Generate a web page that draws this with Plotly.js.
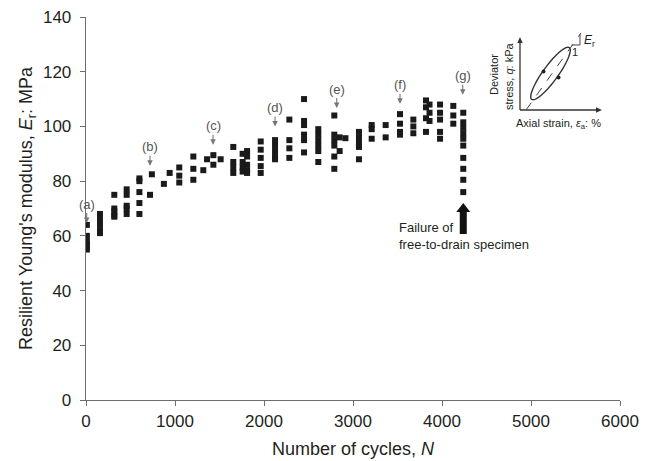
<!DOCTYPE html>
<html><head><meta charset="utf-8">
<script src="https://cdn.plot.ly/plotly-3.0.1.min.js"></script>
<style>html,body{margin:0;padding:0;background:#fff}#chart{width:648px;height:461px}</style>
</head><body><div id="chart"></div>
<script>
// Number of cycles N and resilient Young's modulus Er (MPa)
const cycles = [
  10,10,10,10,10,10,
  157,157,157,157,157,
  318,318,318,318,318,
  457,457,457,457,457,
  600,600,600,600,600,
  719,740,875,940,
  1048,1048,1048,
  1206,1206,1206,
  1318,1360,1431,1431,1513,
  1655,1655,1655,1655,
  1760,1760,1760,1760,
  1810,1810,1810,1810,1810,
  1963,1963,1963,1963,1963,
  2124,2124,2124,2124,2124,
  2285,2285,2285,2285,
  2450,2450,2450,2450,2450,2450,
  2610,2610,2610,2610,2610,2610,
  2790,2790,2790,2790,2790,2790,
  2850,2850,2915,
  3067,3067,3067,3067,3067,
  3210,3210,3210,
  3367,3367,
  3528,3528,3528,3528,
  3678,3678,3678,
  3820,3820,3820,3820,
  3860,3860,3860,
  3978,3978,3978,3978,3978,
  4127,4127,4127,
  4239,4239,4239,4239,4239,4239,4239,4239,4239,4239
];
const modulus = [
  64,60,58,57,56,55,
  68,66,64,62,61,
  75,70,69,67.5,67,
  77,75,71,70,68,
  81,80,76,72,68,
  75,82.5,79,83,
  85,82,79.5,
  89,84.5,80.5,
  84,88,89.5,86,88,
  92.5,87,85,83,
  90,87,85,83.5,
  91,89,86,84,83,
  94.5,91.5,88.5,85.5,83,
  95,93,91,89,88,
  102.5,95,92,88.5,
  110,102,100.5,97,95,90.5,
  99,97,95,93,91,87,
  104,97,95,93,89,84.5,
  96,91,95.7,
  98,96,94,92.5,88,
  100.5,99,95.5,
  100.5,96,
  104.5,101,98,97,
  102.5,100,97.5,
  109.5,107,103,98,
  108,105,102,
  108,105,102.5,98,95.5,
  107.5,104,101,
  105,101.5,99.5,97.5,95.5,93,88.5,84.5,80.5,76
];
const xTicks = [0,1000,2000,3000,4000,5000,6000];
const yTicks = [0,20,40,60,80,100,120,140];
const stageLabels = ['(a)','(b)','(c)','(d)','(e)','(f)','(g)'];
const stageCycles = [8,719,1427,2124,2817,3528,4233];
const stageTips = [64.7,85.6,93.3,100,106.7,108.3,111.6];
const failureCycles = 4239;
const failureTip = 72;

const FONT = 'Liberation Sans, Arial, sans-serif';
const TXT = '#231f20';
const AX = '#6d6e71';

// plot-area geometry, used for the pixel-scaled overlay axes (x2/y2) that hold the drawings
const M = {l:86, r:28, t:17, b:61}, W = 648, H = 461;
const pxX = n => M.l + n/6000*(W-M.l-M.r);
const pxY = e => (H-M.b) - e/140*(H-M.t-M.b);

function ellipsePath(cx, cy, a, b, angDeg){
  const th = angDeg*Math.PI/180; let p='';
  for(let i=0;i<=72;i++){
    const t=2*Math.PI*i/72, ux=a*Math.cos(t), uy=b*Math.sin(t);
    const x=cx+ux*Math.cos(th)-uy*Math.sin(th);
    const y=cy-(ux*Math.sin(th)+uy*Math.cos(th));
    p += (i===0?'M':'L')+x.toFixed(2)+','+y.toFixed(2);
  }
  return p+'Z';
}

// big "failure" arrow, positioned from the failure column in data space
const fx = pxX(failureCycles), fy = pxY(failureTip);
const bigArrow = `M${fx-3.5},${fy+31}L${fx-3.5},${fy+9}L${fx-7},${fy+9}L${fx},${fy}L${fx+7},${fy+9}L${fx+3.5},${fy+9}L${fx+3.5},${fy+31}Z`;

const traces = [
  {x:cycles, y:modulus, type:'scatter', mode:'markers',
   marker:{symbol:'square', size:6, color:'#1a1a1a'}, hoverinfo:'x+y', showlegend:false},
  {x:[M.l, W-M.r], y:[H-M.b, M.t], xaxis:'x2', yaxis:'y2', type:'scatter', mode:'markers',
   marker:{opacity:0}, hoverinfo:'skip', showlegend:false}
];

const S = {xref:'x2', yref:'y2'};
const shapes = [
  Object.assign({type:'path', path:bigArrow, fillcolor:'#111', line:{width:0}}, S),
  // inset: axes with arrow heads
  Object.assign({type:'line', x0:520, y0:110, x1:520, y1:41, line:{color:'#333',width:1.3}}, S),
  Object.assign({type:'path', path:'M517.3,43L520,37L522.7,43Z', fillcolor:'#333', line:{width:0}}, S),
  Object.assign({type:'line', x0:520, y0:110, x1:598, y1:110, line:{color:'#333',width:1.3}}, S),
  Object.assign({type:'path', path:'M596,107.3L602,110L596,112.7Z', fillcolor:'#333', line:{width:0}}, S),
  // inset: hysteresis loop, secant line and slope triangle
  Object.assign({type:'path', path:ellipsePath(550.5,73.5,32,7.5,54), line:{color:'#333',width:1.4}}, S),
  Object.assign({type:'line', x0:526, y0:110, x1:581, y1:33, line:{color:'#444',width:1,dash:'dash'}}, S),
  Object.assign({type:'path', path:'M571.5,45L580,45L580,34', line:{color:'#444',width:1}}, S),
  Object.assign({type:'circle', x0:541.5, y0:69.5, x1:545.5, y1:73.5, fillcolor:'#222', line:{width:0}}, S),
  Object.assign({type:'circle', x0:556.5, y0:75.5, x1:560.5, y1:79.5, fillcolor:'#222', line:{width:0}}, S)
];

const annotations = [];
stageLabels.forEach((t,i)=>{
  annotations.push({x:stageCycles[i], y:stageTips[i], xref:'x', yref:'y', text:t,
    showarrow:true, ax:0, ay:-19, arrowhead:2, arrowsize:1, arrowwidth:1.1, arrowcolor:'#777',
    font:{family:FONT,size:13,color:'#555'}});
});
annotations.push({x:3494, y:60, xref:'x', yref:'y', text:'Failure of<br>free-to-drain specimen',
  showarrow:false, xanchor:'left', yanchor:'middle', align:'left',
  font:{family:FONT,size:13,color:TXT}});
annotations.push({x:494, y:75, xref:'x2', yref:'y2', text:'Deviator', textangle:-90, showarrow:false,
  font:{family:FONT,size:11,color:TXT}});
annotations.push({x:509, y:76, xref:'x2', yref:'y2', text:'stress, <i>q</i>: kPa', textangle:-90, showarrow:false,
  font:{family:FONT,size:11,color:TXT}});
annotations.push({x:558, y:124, xref:'x2', yref:'y2', text:'Axial strain, <i>ε</i><sub>a</sub>: %', showarrow:false,
  font:{family:FONT,size:11,color:TXT}});
annotations.push({x:575, y:52, xref:'x2', yref:'y2', text:'1', showarrow:false,
  font:{family:FONT,size:11,color:TXT}});
annotations.push({x:582, y:41, xref:'x2', yref:'y2', text:'<i>E</i><sub>r</sub>', showarrow:false, xanchor:'left',
  font:{family:FONT,size:12,color:TXT}});

const layout = {
  width:W, height:H,
  margin:M,
  paper_bgcolor:'#fff', plot_bgcolor:'#fff',
  font:{family:FONT, color:TXT},
  showlegend:false,
  xaxis:{range:[0,6000], tickvals:xTicks, ticks:'outside', ticklen:5, tickwidth:1, tickcolor:AX,
    showline:true, linecolor:AX, linewidth:1.3, showgrid:false, zeroline:false,
    tickfont:{family:FONT,size:17,color:TXT},
    title:{text:'Number of cycles, <i>N</i>', font:{family:FONT,size:18,color:TXT}, standoff:12}},
  yaxis:{range:[0,140], tickvals:yTicks, ticks:'outside', ticklen:5, tickwidth:1, tickcolor:AX,
    showline:true, linecolor:AX, linewidth:1.3, showgrid:false, zeroline:false, ticklabelstandoff:5,
    tickfont:{family:FONT,size:17,color:TXT},
    title:{text:'Resilient Young\'s modulus, <i>E</i><sub>r</sub>: MPa', font:{family:FONT,size:18,color:TXT}, standoff:5}},
  xaxis2:{overlaying:'x', anchor:'y2', range:[M.l, W-M.r], visible:false, fixedrange:true},
  yaxis2:{overlaying:'y', anchor:'x2', range:[H-M.b, M.t], visible:false, fixedrange:true},
  shapes:shapes,
  annotations:annotations
};

Plotly.newPlot('chart', traces, layout, {displayModeBar:false, staticPlot:true});
</script>
</body></html>
